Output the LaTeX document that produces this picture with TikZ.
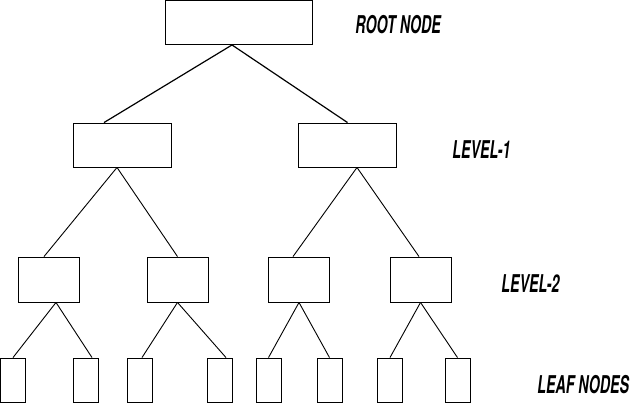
\documentclass[tikz,border=0pt]{standalone}
\usepackage{fontspec}
\newfontfamily\levelfont{TeX Gyre Heros}[FakeStretch=0.58]

\begin{document}
\begin{tikzpicture}
  [
    x                 = 1bp,
    y                 = -1bp,
    line width        = 0.9bp,
    rootbox/.style    = {draw, minimum width=147bp, minimum height=44bp},
    levelbox/.style   = {draw, minimum width=98bp, minimum height=44bp},
    subbox/.style     = {draw, minimum width=61bp, minimum height=45bp},
    leafbox/.style    = {draw, minimum width=25bp, minimum height=44bp},
    levellabel/.style = {anchor=base west, inner sep=0pt,
                         font=\levelfont\bfseries\itshape\fontsize{24.5bp}{26bp}\selectfont}
  ]
  \useasboundingbox (0,0) rectangle (631,403);

  \node [rootbox]  (root) at (238.5,22.5) {};
  \node [levelbox] (l1a)  at (122.5,145)  {};
  \node [levelbox] (l1b)  at (347.5,145)  {};
  \node [subbox]   (l2a)  at (49,279.5)   {};
  \node [subbox]   (l2b)  at (177.5,279.5) {};
  \node [subbox]   (l2c)  at (299,279.5)  {};
  \node [subbox]   (l2d)  at (420.5,279.5) {};
  \node [leafbox]  (lfa)  at (13,380)     {};
  \node [leafbox]  (lfb)  at (85.5,380)   {};
  \node [leafbox]  (lfc)  at (140,380)    {};
  \node [leafbox]  (lfd)  at (219.5,380)  {};
  \node [leafbox]  (lfe)  at (268.5,380)  {};
  \node [leafbox]  (lff)  at (329.5,380)  {};
  \node [leafbox]  (lfg)  at (390,380)    {};
  \node [leafbox]  (lfh)  at (457.5,380)  {};

  \draw [line width=1.2bp] ([xshift=-6.5bp]root.south) -- ([xshift=-18.5bp]l1a.north);
  \draw [line width=1.2bp] ([xshift=-6.5bp]root.south) -- (l1b.north);
  \draw ([xshift=-5.5bp]l1a.south) -- ([xshift=-5bp]l2a.north);
  \draw ([xshift=-5.5bp]l1a.south) -- (l2b.north);
  \draw ([xshift=9.5bp]l1b.south) -- ([xshift=-6bp]l2c.north);
  \draw ([xshift=9.5bp]l1b.south) -- ([xshift=-1.5bp]l2d.north);
  \draw ([xshift=7bp]l2a.south) -- (lfa.north);
  \draw ([xshift=7bp]l2a.south) -- ([xshift=6.5bp]lfb.north);
  \draw (l2b.south) -- ([xshift=2bp]lfc.north);
  \draw (l2b.south) -- ([xshift=6.5bp]lfd.north);
  \draw (l2c.south) -- (lfe.north);
  \draw (l2c.south) -- (lff.north);
  \draw (l2d.south) -- (lfg.north);
  \draw (l2d.south) -- (lfh.north);

  \node [levellabel] (rootlabel) at (355,33)  {ROOT NODE};
  \node [levellabel] (lvlonelabel) at (452,158) {LEVEL-1};
  \node [levellabel] (lvltwolabel) at (501,292) {LEVEL-2};
  \node [levellabel] (leaflabel) at (537,393) {LEAF NODES};
\end{tikzpicture}
\end{document}
